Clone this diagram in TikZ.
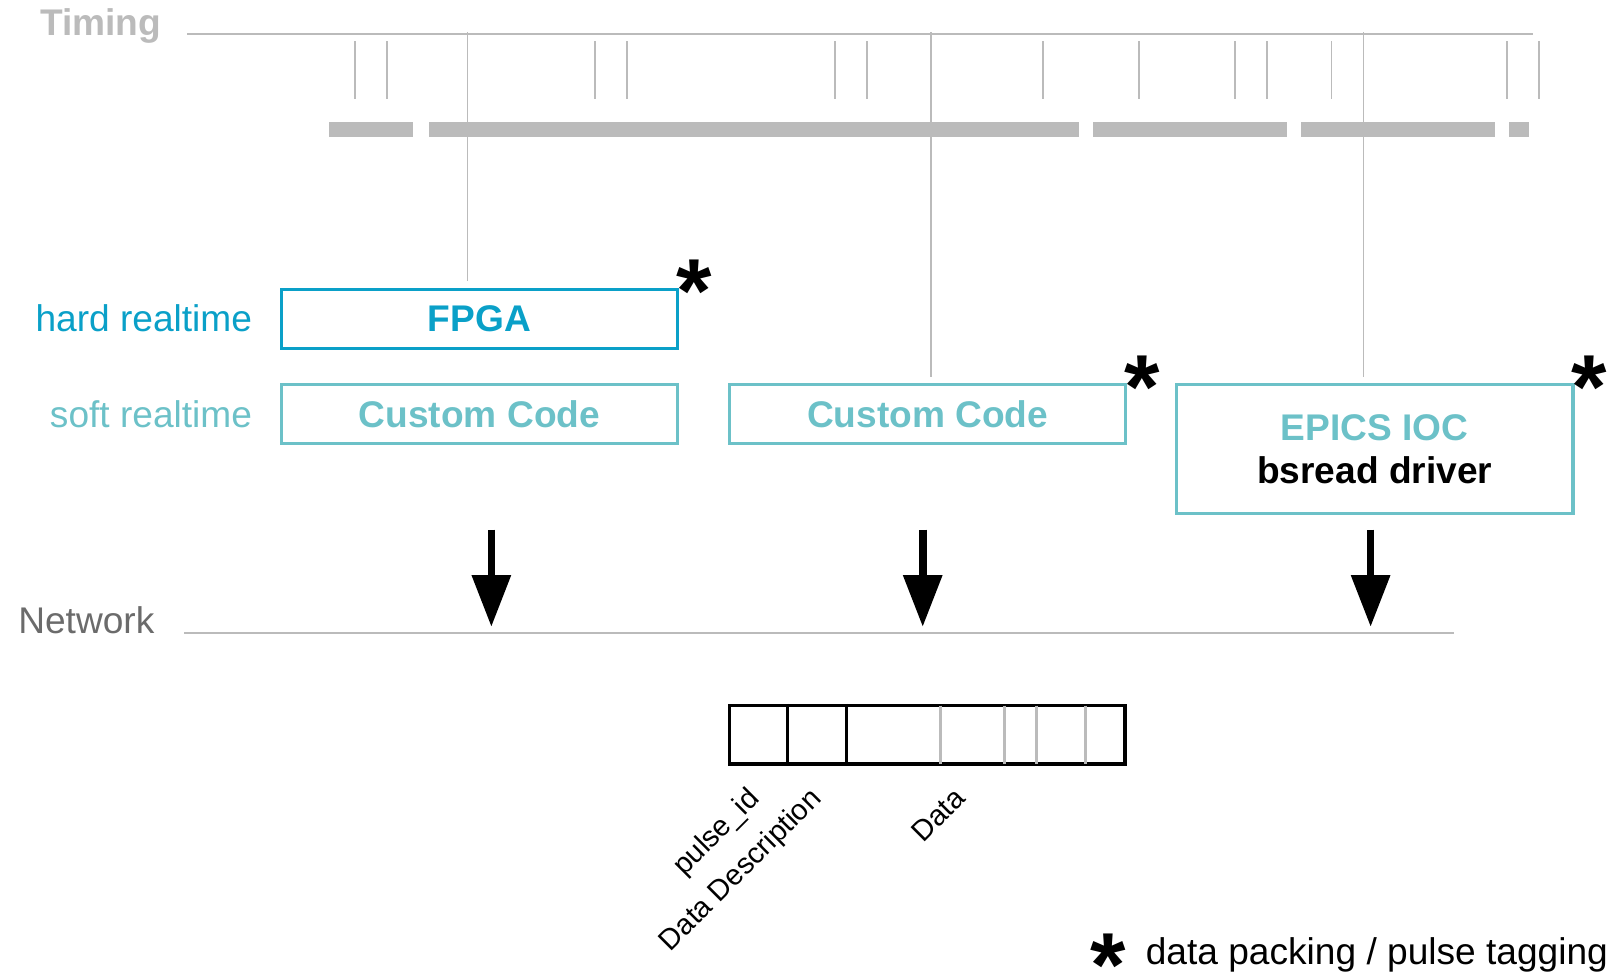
\documentclass[tikz,border=0pt]{standalone}
\usepackage{fontspec}
\setmainfont{Liberation Sans}
\usepackage{xcolor}
\usepackage{tikz}
\usetikzlibrary{arrows.meta, positioning, calc}
\definecolor{bsHard}{HTML}{0AA0C8}
\definecolor{bsSoft}{HTML}{6CC1C8}
\definecolor{bsGrey}{HTML}{BBBBBB}
\definecolor{bsDark}{HTML}{6B6B6B}
\newcommand{\bsast}{\raisebox{-0.48em}[0.2em][0.2em]{*}}
\tikzset{
  bsbox/.style={draw, line width=0.85pt, minimum width=3.83cm, minimum height=0.57cm,
                inner sep=0pt, align=center, font=\fontsize{10.2}{11.8}\selectfont\bfseries},
  bshard/.style={bsbox, draw=bsHard, text=bsHard},
  bssoft/.style={bsbox, draw=bsSoft, text=bsSoft},
  bslabel/.style={inner sep=0pt, font=\fontsize{10.2}{12}\selectfont},
  bsstar/.style={inner sep=0pt, anchor=base, font=\fontsize{25}{25}\selectfont\bfseries},
  bslane/.style={draw=bsGrey, line width=0.45pt},
  bsnet/.style={draw=bsGrey, line width=0.6pt},
  bsflow/.style={line width=2.1pt, -{Triangle[width=10.3pt,length=14.2pt]}},
  bscell/.style={draw, line width=0.9pt},
  bsfield/.style={inner sep=0pt, rotate=45, anchor=base east, font=\fontsize{8}{9.6}\selectfont},
}

\begin{document}
\begin{tikzpicture}[x=0.01cm, y=-0.01cm]
\useasboundingbox (0,0) rectangle (1568,944);

\node[bslabel, text=bsGrey, font=\fontsize{10.2}{12}\selectfont\bfseries, anchor=base west] (timing) at (38,34) {Timing};
\coordinate (tl) at (181,33);
\coordinate (tr) at (1482,33);
\draw[bslane] (tl) -- (tr);
\foreach \x in {343,374,575,606,807,838,1008,1101,1194,1225,1287,1457,1488}
  \draw[bslane] (\x,40) -- (\x,96);
\foreach \a/\b in {318/399,415/1043,1057/1244,1258/1445,1459/1478}
  \fill[bsGrey] (\a,118) rectangle (\b,132);

\node[bshard] (fpga) at (463.5,308) {FPGA};
\node[bssoft, below=0.32cm of fpga] (cc1) {Custom Code};
\node[bssoft, right=0.47cm of cc1] (cc2) {Custom Code};
\node[bssoft, minimum height=1.25cm, right=0.46cm of cc2.north east, anchor=north west] (epics)
  {EPICS IOC\\\textcolor{black}{bsread driver}};

\node[bslabel, text=bsHard, left=0.26cm of fpga] (hard) {hard realtime};
\node[bslabel, text=bsSoft, left=0.26cm of cc1] (soft) {soft realtime};

\node[bsstar] (fpgastar) at ([shift={(14,-8)}]fpga.north east) {\bsast};
\node[bsstar] (ccstar) at ([shift={(14,-8)}]cc2.north east) {\bsast};
\node[bsstar] (epicsstar) at ([shift={(14,-8)}]epics.north east) {\bsast};

\foreach \x/\n in {452/fpga,900/cc2,1318/epics}
  \draw[bslane] (\x,31) -- ($(\x,0 |- \n.north)+(0,-6)$);

\coordinate (netl) at (178,612);
\coordinate (netr) at (1406,612);
\draw[bsnet] (netl) -- (netr);
\node[bslabel, text=bsDark, anchor=base west] (network) at (17,612) {Network};

\coordinate (outA) at (475,512);
\coordinate (outB) at (892,512);
\coordinate (outC) at (1325,512);
\foreach \o in {outA,outB,outC}
  \draw[bsflow, shorten >=0.06cm] (\o) -- (\o |- netl);

\node[bscell, minimum width=3.82cm, minimum height=0.565cm, inner sep=0pt] (packet) at (896.5,710.3) {};
\foreach \x in {909,971,1002,1049}
  \draw[draw=bsGrey, line width=0.85pt, shorten <=0.45pt, shorten >=0.45pt] (packet.north -| \x,0) -- (packet.south -| \x,0);
\foreach \x in {761,818}
  \draw[bscell] (packet.north -| \x,0) -- (packet.south -| \x,0);

\node[bsfield] (pid) at (736,773) {pulse\_id};
\node[bsfield] (ddesc) at (796,773) {Data Description};
\node[bsfield] (pdata) at (935,773) {Data};

\node[bsstar] (legstar) at (1071,921) {\bsast};
\node[bslabel, anchor=base west] (legend) at (1107,932) {data packing / pulse tagging};
\end{tikzpicture}
\end{document}
